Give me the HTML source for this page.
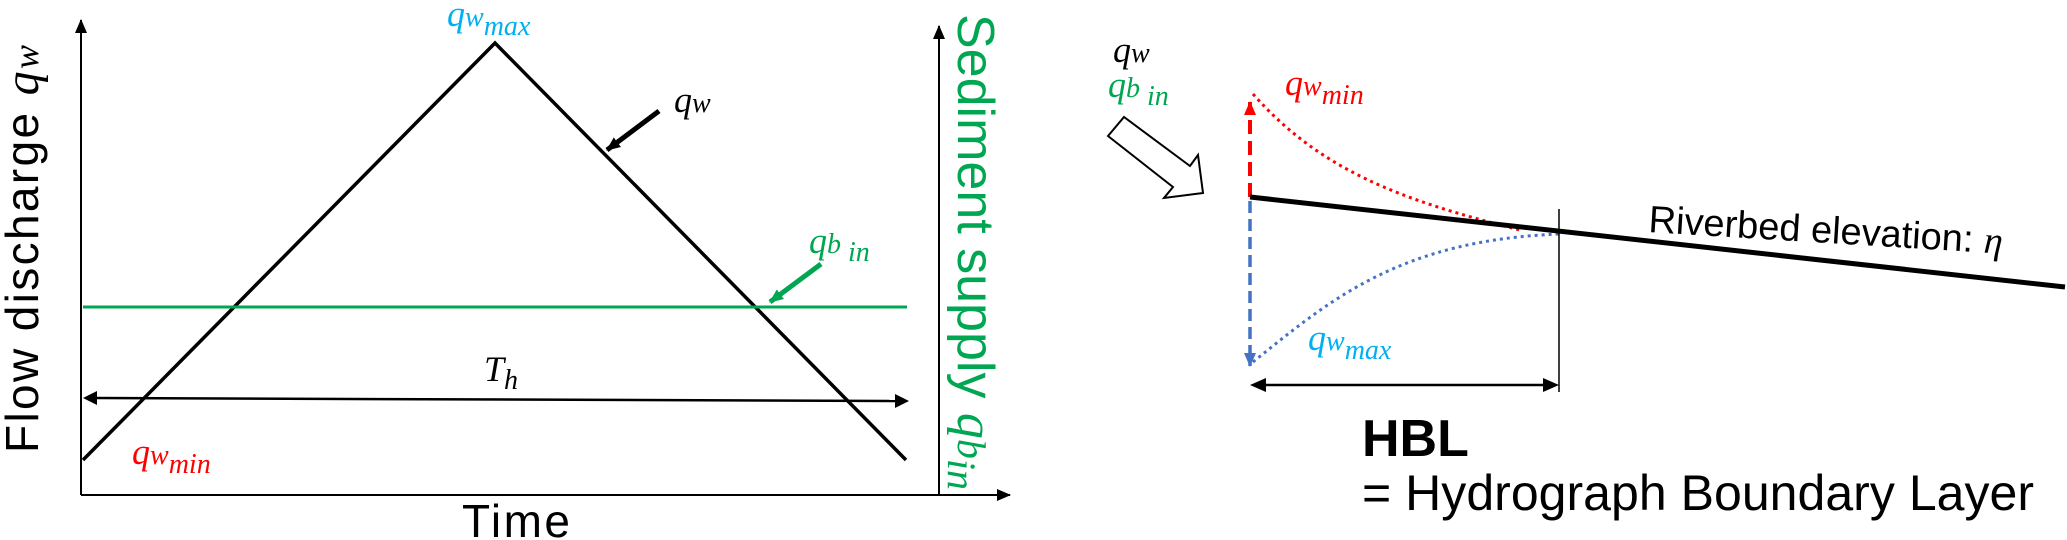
<!DOCTYPE html>
<html><head><meta charset="utf-8"><style>
html,body{margin:0;padding:0;background:#fff;}
svg{display:block;}
.m{font-family:"Liberation Serif",serif;font-style:italic;}
.s{font-family:"Liberation Sans",sans-serif;}
</style></head><body>
<svg width="2067" height="540" viewBox="0 0 2067 540" xmlns="http://www.w3.org/2000/svg">
<defs>
<marker id="ab" markerWidth="14" markerHeight="12" refX="13" refY="6" orient="auto" markerUnits="userSpaceOnUse"><path d="M0,0 L14,6 L0,12 z" fill="#000"/></marker>
<marker id="ag" markerWidth="14" markerHeight="12" refX="13" refY="6" orient="auto" markerUnits="userSpaceOnUse"><path d="M0,0 L14,6 L0,12 z" fill="#00a651"/></marker>
<marker id="ar" markerWidth="14" markerHeight="12" refX="13" refY="6" orient="auto" markerUnits="userSpaceOnUse"><path d="M0,0 L14,6 L0,12 z" fill="#ff0000"/></marker>
<marker id="abl" markerWidth="14" markerHeight="12" refX="13" refY="6" orient="auto" markerUnits="userSpaceOnUse"><path d="M0,0 L14,6 L0,12 z" fill="#4472c4"/></marker>
</defs>
<line x1="81" y1="495" x2="81" y2="20" stroke="#000" stroke-width="2" marker-end="url(#ab)"/>
<line x1="81" y1="495" x2="1010" y2="495" stroke="#000" stroke-width="2" marker-end="url(#ab)"/>
<line x1="939" y1="495" x2="939" y2="26" stroke="#000" stroke-width="2" marker-end="url(#ab)"/>
<polyline points="83,460 495,43 906,460" fill="none" stroke="#000" stroke-width="3.5"/>
<line x1="83" y1="307" x2="907" y2="307" stroke="#00a651" stroke-width="3"/>
<line x1="96" y1="398" x2="895" y2="401" stroke="#000" stroke-width="2.5"/>
<path d="M83,398 L97,391 L97,405 z" fill="#000"/>
<path d="M909,401 L895,394 L895,408 z" fill="#000"/>
<line x1="659" y1="111" x2="607" y2="150" stroke="#000" stroke-width="5" marker-end="url(#ab)"/>
<line x1="821" y1="264" x2="770" y2="302" stroke="#00a651" stroke-width="5" marker-end="url(#ag)"/>
<text class="m" x="447" y="26" font-size="36" fill="#00b0f0">q<tspan font-size="28">w</tspan><tspan dy="9" font-size="28">max</tspan></text>
<text class="m" x="674" y="112" font-size="36" fill="#000">q<tspan font-size="28">w</tspan></text>
<text class="m" x="809" y="253" font-size="36" fill="#00a651">q<tspan font-size="28">b</tspan><tspan dy="8" font-size="28"> in</tspan></text>
<text class="m" x="484" y="381" font-size="36" fill="#000">T<tspan dy="8" font-size="28">h</tspan></text>
<text class="m" x="132" y="464" font-size="36" fill="#ff0000">q<tspan font-size="28">w</tspan><tspan dy="9" font-size="28">min</tspan></text>
<text class="s" x="462" y="537" font-size="46" fill="#000" textLength="108">Time</text>
<text class="s" transform="translate(38,453) rotate(-90)" font-size="46" fill="#000" textLength="408">Flow discharge <tspan class="m" font-size="48">q</tspan><tspan class="m" font-size="36">w</tspan></text>
<text class="s" transform="translate(958,14) rotate(90)" font-size="52" fill="#00a651">Sediment supply <tspan class="m" font-size="52">q</tspan><tspan class="m" font-size="40">b</tspan><tspan class="m" font-size="40" dy="10">in</tspan></text>
<text class="m" x="1113" y="62" font-size="36" fill="#000">q<tspan font-size="28">w</tspan></text>
<text class="m" x="1108" y="97" font-size="36" fill="#00a651">q<tspan font-size="28">b</tspan><tspan dy="8" font-size="28"> in</tspan></text>
<path d="M1108,136 L1124,117 L1190,166 L1198,155 L1203,193 L1164,198 L1173,187 z" fill="#fff" stroke="#000" stroke-width="2"/>
<line x1="1250" y1="197" x2="1250" y2="102" stroke="#ff0000" stroke-width="4" stroke-dasharray="14,7" marker-end="url(#ar)"/>
<line x1="1250" y1="201" x2="1250" y2="366" stroke="#4472c4" stroke-width="3.5" stroke-dasharray="12,6" marker-end="url(#abl)"/>
<path d="M1253,94 C1320,170 1400,200 1520,230" fill="none" stroke="#ff0000" stroke-width="3" stroke-dasharray="3,4"/>
<path d="M1253,362 C1330,300 1400,240 1560,234" fill="none" stroke="#4472c4" stroke-width="3" stroke-dasharray="3,4"/>
<line x1="1250" y1="197" x2="2065" y2="287" stroke="#000" stroke-width="5"/>
<line x1="1559" y1="209" x2="1559" y2="392" stroke="#000" stroke-width="1.5"/>
<line x1="1264" y1="385" x2="1545" y2="385" stroke="#000" stroke-width="2.5"/>
<path d="M1250,385 L1266,378 L1266,392 z" fill="#000"/>
<path d="M1559,385 L1543,378 L1543,392 z" fill="#000"/>
<text class="m" x="1285" y="95" font-size="36" fill="#ff0000">q<tspan font-size="28">w</tspan><tspan dy="9" font-size="28">min</tspan></text>
<text class="m" x="1308" y="350" font-size="36" fill="#00b0f0">q<tspan font-size="28">w</tspan><tspan dy="9" font-size="28">max</tspan></text>
<text class="s" x="1648" y="232" font-size="38" fill="#000" transform="rotate(3.5 1648 232)">Riverbed elevation: <tspan class="m" font-size="38">η</tspan></text>
<text class="s" x="1362" y="456" font-size="52" font-weight="bold" fill="#000">HBL</text>
<text class="s" x="1362" y="510" font-size="50" fill="#000" textLength="672">= Hydrograph Boundary Layer</text>
</svg>
</body></html>
